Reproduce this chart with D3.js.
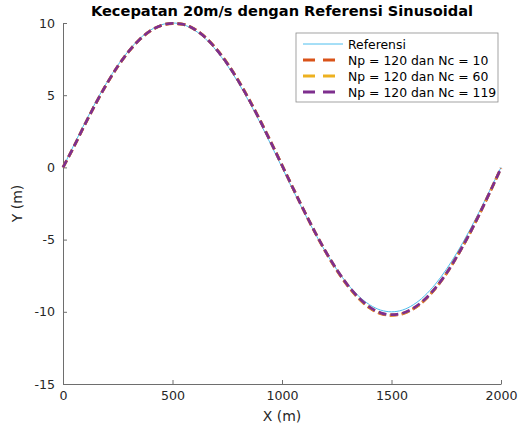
<!DOCTYPE html>
<html lang="en">
<head>
<meta charset="utf-8">
<script src="https://d3js.org/d3.v7.min.js"></script>
<style>
  body { margin: 0; background: #fff; }
  text { font-family: "DejaVu Sans", sans-serif; fill: #262626; }
  .axis path, .axis line { stroke: #6e6e6e; }
  .series { fill: none; }
</style>
</head>
<body>
<div id="chart"></div>
<script>
// values, every 50 m along X
var xs = [0,50,100,150,200,250,300,350,400,450,500,550,600,650,700,750,800,850,900,950,
          1000,1050,1100,1150,1200,1250,1300,1350,1400,1450,1500,1550,1600,1650,1700,1750,1800,1850,1900,1950,2000];
var referensi = [0,1.56,3.09,4.54,5.88,7.07,8.09,8.91,9.51,9.88,10,9.88,9.51,8.91,8.09,7.07,5.88,4.54,3.09,1.56,
                 0,-1.56,-3.09,-4.54,-5.88,-7.07,-8.09,-8.91,-9.51,-9.88,-10,-9.88,-9.51,-8.91,-8.09,-7.07,-5.88,-4.54,-3.09,-1.56,0];
var nc10 = [0,1.44,2.97,4.43,5.78,6.99,8.02,8.85,9.46,9.83,9.96,9.90,9.58,9.01,8.21,7.21,6.03,4.70,3.26,1.74,
            0.16,-1.43,-2.99,-4.48,-5.87,-7.12,-8.20,-9.08,-9.73,-10.13,-10.25,-10.15,-9.80,-9.21,-8.39,-7.37,-6.14,-4.78,-3.28,-1.69,-0.05];
var nc60 = [0,1.45,2.98,4.44,5.79,7.00,8.03,8.86,9.47,9.84,9.97,9.90,9.57,9.00,8.20,7.20,6.02,4.69,3.25,1.73,
            0.15,-1.43,-2.98,-4.47,-5.85,-7.10,-8.17,-9.05,-9.70,-10.10,-10.22,-10.12,-9.77,-9.19,-8.37,-7.36,-6.13,-4.78,-3.28,-1.69,-0.05];
var nc119 = [0,1.45,2.98,4.44,5.79,7.00,8.03,8.86,9.47,9.84,9.97,9.90,9.57,8.99,8.19,7.19,6.01,4.68,3.24,1.72,
             0.15,-1.43,-2.98,-4.46,-5.84,-7.08,-8.15,-9.02,-9.67,-10.07,-10.20,-10.10,-9.75,-9.17,-8.36,-7.35,-6.13,-4.78,-3.28,-1.69,-0.05];
var seriesNames = ["Referensi", "Np = 120 dan Nc = 10", "Np = 120 dan Nc = 60", "Np = 120 dan Nc = 119"];
var xTicks = [0, 500, 1000, 1500, 2000];
var yTicks = [-15, -10, -5, 0, 5, 10];

var W = 531, H = 427;
var margin = {top: 23, right: 30, bottom: 43, left: 63};
var width = W - margin.left - margin.right,
    height = H - margin.top - margin.bottom;

var svg = d3.select("#chart").append("svg")
    .attr("width", W).attr("height", H)
  .append("g")
    .attr("transform", "translate(" + margin.left + "," + margin.top + ")");

var x = d3.scaleLinear().domain([0, 2000]).range([0, width]);
var y = d3.scaleLinear().domain([-15, 10]).range([height, 0]);

var fmt = function(d) { return String(d); };   // plain hyphen, no thousands comma

// axes, ticks pointing inward like matlab
svg.append("g")
    .attr("class", "axis")
    .attr("transform", "translate(0," + height + ")")
    .call(d3.axisBottom(x).tickValues(xTicks).tickFormat(fmt).tickSizeInner(-4).tickSizeOuter(0).tickPadding(7))
    .call(function(g) { g.selectAll("text").attr("font-size", 12.6).style("fill", "#262626"); });

svg.append("g")
    .attr("class", "axis")
    .call(d3.axisLeft(y).tickValues(yTicks).tickFormat(fmt).tickSizeInner(-4).tickSizeOuter(0).tickPadding(8))
    .call(function(g) { g.selectAll("text").attr("font-size", 12.6).style("fill", "#262626"); });

var line = d3.line().curve(d3.curveMonotoneX)
    .x(function(d, i) { return x(xs[i]); })
    .y(function(d) { return y(d); });

var styles = [
  {data: referensi, color: "#4DBEEE", width: 1, dash: null},
  {data: nc10, color: "#D95319", width: 2.8, dash: "8,4"},
  {data: nc60, color: "#EDB120", width: 2.8, dash: "8,4"},
  {data: nc119, color: "#7E2F8E", width: 2.8, dash: "8,4"}
];

styles.forEach(function(s) {
  svg.append("path")
      .datum(s.data)
      .attr("class", "series")
      .attr("stroke", s.color)
      .attr("stroke-width", s.width)
      .attr("stroke-dasharray", s.dash)
      .attr("d", line);
});

// title and labels
svg.append("text")
    .attr("x", width / 2).attr("y", -7)
    .attr("text-anchor", "middle")
    .attr("font-size", 14.6).attr("font-weight", "bold")
    .style("fill", "#000")
    .text("Kecepatan 20m/s dengan Referensi Sinusoidal");

svg.append("text")
    .attr("x", width / 2).attr("y", height + 37)
    .attr("text-anchor", "middle")
    .attr("font-size", 14)
    .text("X (m)");

svg.append("text")
    .attr("transform", "translate(-41," + (height / 2) + ") rotate(-90)")
    .attr("text-anchor", "middle")
    .attr("font-size", 14)
    .text("Y (m)");

// legend
var lg = svg.append("g").attr("transform", "translate(" + (296 - margin.left) + "," + (33 - margin.top) + ")");
lg.append("rect")
    .attr("width", 202).attr("height", 69)
    .attr("fill", "#fff").attr("stroke", "#8c8c8c").attr("stroke-width", 0.8);

styles.forEach(function(s, i) {
  var yy = 11 + i * 16;
  lg.append("line")
      .attr("x1", 7).attr("x2", 47).attr("y1", yy).attr("y2", yy)
      .attr("stroke", s.color)
      .attr("stroke-width", s.width)
      .attr("stroke-dasharray", s.dash ? "12,8" : null);
  lg.append("text")
      .attr("x", 52).attr("y", yy + 4.5)
      .attr("font-size", 12.4)
      .style("fill", "#000")
      .text(seriesNames[i]);
});
</script>
</body>
</html>
